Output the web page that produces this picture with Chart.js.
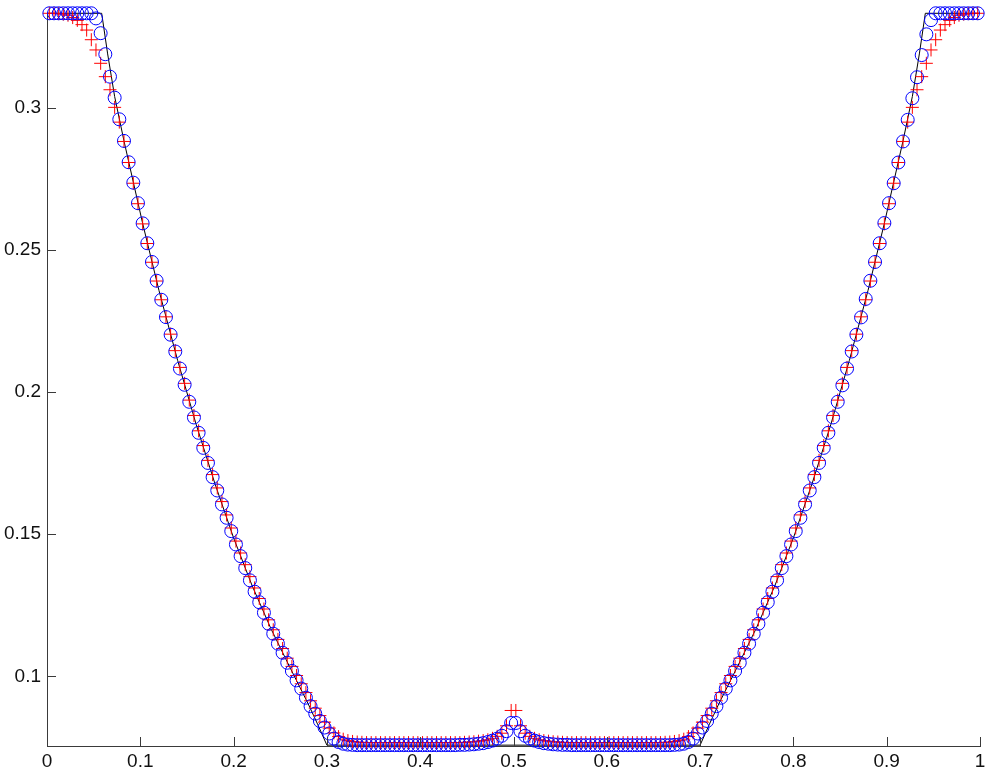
<!DOCTYPE html>
<html>
<head>
<meta charset="utf-8">
<script src="https://cdn.jsdelivr.net/npm/chart.js@4/dist/chart.umd.min.js"></script>
<style>
html, body { margin: 0; padding: 0; background: #fff; }
#wrap { width: 996px; height: 773px; }
</style>
</head>
<body>
<div id="wrap"><canvas id="grafica" width="996" height="773"></canvas></div>
<script>
// Densidad en 200 celdas: esquema azul (o), esquema rojo (+), solución exacta (línea negra)
const rhoAzul = [
  0.3333, 0.3333, 0.3333, 0.3333, 0.3333, 0.3333, 0.3333, 0.3333, 0.3333, 0.3333,
  0.3315, 0.3263, 0.3189, 0.3110, 0.3036, 0.2960, 0.2884, 0.2809, 0.2737, 0.2665,
  0.2594, 0.2524, 0.2458, 0.2392, 0.2325, 0.2264, 0.2202, 0.2143, 0.2083, 0.2026,
  0.1966, 0.1911, 0.1857, 0.1804, 0.1751, 0.1701, 0.1654, 0.1605, 0.1558, 0.1511,
  0.1464, 0.1423, 0.1381, 0.1338, 0.1298, 0.1261, 0.1224, 0.1185, 0.1150, 0.1115,
  0.1083, 0.1048, 0.1019, 0.0986, 0.0957, 0.0925, 0.0895, 0.0869, 0.0843, 0.0820,
  0.0799, 0.0781, 0.0769, 0.0763, 0.0760, 0.0759, 0.0758, 0.0758, 0.0758, 0.0758,
  0.0758, 0.0758, 0.0758, 0.0758, 0.0758, 0.0758, 0.0758, 0.0758, 0.0758, 0.0758,
  0.0758, 0.0758, 0.0758, 0.0758, 0.0758, 0.0758, 0.0758, 0.0758, 0.0759, 0.0759,
  0.0760, 0.0761, 0.0763, 0.0765, 0.0769, 0.0774, 0.0781, 0.0791, 0.0807, 0.0836,
  0.0836, 0.0807, 0.0791, 0.0781, 0.0774, 0.0769, 0.0765, 0.0763, 0.0761, 0.0760,
  0.0759, 0.0759, 0.0758, 0.0758, 0.0758, 0.0758, 0.0758, 0.0758, 0.0758, 0.0758,
  0.0758, 0.0758, 0.0758, 0.0758, 0.0758, 0.0758, 0.0758, 0.0758, 0.0758, 0.0758,
  0.0758, 0.0758, 0.0758, 0.0758, 0.0759, 0.0760, 0.0763, 0.0769, 0.0781, 0.0799,
  0.0820, 0.0843, 0.0869, 0.0895, 0.0925, 0.0957, 0.0986, 0.1019, 0.1048, 0.1083,
  0.1115, 0.1150, 0.1185, 0.1224, 0.1261, 0.1298, 0.1338, 0.1381, 0.1423, 0.1464,
  0.1511, 0.1558, 0.1605, 0.1654, 0.1701, 0.1751, 0.1804, 0.1857, 0.1911, 0.1966,
  0.2024, 0.2083, 0.2143, 0.2202, 0.2263, 0.2328, 0.2392, 0.2458, 0.2524, 0.2595,
  0.2665, 0.2735, 0.2808, 0.2882, 0.2958, 0.3034, 0.3108, 0.3186, 0.3259, 0.3309,
  0.3333, 0.3333, 0.3333, 0.3333, 0.3333, 0.3333, 0.3333, 0.3333, 0.3333, 0.3333
];

const rhoRojo = [
  0.3333, 0.3333, 0.3332, 0.3330, 0.3326, 0.3318, 0.3308, 0.3293, 0.3274, 0.3240,
  0.3204, 0.3157, 0.3110, 0.3064, 0.3002, 0.2950, 0.2882, 0.2808, 0.2735, 0.2663,
  0.2592, 0.2523, 0.2457, 0.2391, 0.2325, 0.2265, 0.2204, 0.2146, 0.2087, 0.2031,
  0.1972, 0.1918, 0.1864, 0.1812, 0.1760, 0.1710, 0.1663, 0.1615, 0.1568, 0.1522,
  0.1476, 0.1434, 0.1393, 0.1351, 0.1311, 0.1274, 0.1237, 0.1199, 0.1164, 0.1130,
  0.1098, 0.1064, 0.1035, 0.1003, 0.0974, 0.0943, 0.0914, 0.0888, 0.0862, 0.0839,
  0.0818, 0.0801, 0.0788, 0.0779, 0.0774, 0.0771, 0.0769, 0.0768, 0.0767, 0.0767,
  0.0767, 0.0767, 0.0767, 0.0767, 0.0767, 0.0767, 0.0767, 0.0767, 0.0767, 0.0767,
  0.0767, 0.0767, 0.0767, 0.0767, 0.0767, 0.0767, 0.0767, 0.0767, 0.0767, 0.0768,
  0.0769, 0.0770, 0.0772, 0.0774, 0.0777, 0.0782, 0.0789, 0.0800, 0.0826, 0.0880,
  0.0880, 0.0826, 0.0800, 0.0789, 0.0782, 0.0777, 0.0774, 0.0772, 0.0770, 0.0769,
  0.0768, 0.0767, 0.0767, 0.0767, 0.0767, 0.0767, 0.0767, 0.0767, 0.0767, 0.0767,
  0.0767, 0.0767, 0.0767, 0.0767, 0.0767, 0.0767, 0.0767, 0.0767, 0.0767, 0.0767,
  0.0767, 0.0767, 0.0768, 0.0769, 0.0771, 0.0774, 0.0779, 0.0788, 0.0801, 0.0818,
  0.0839, 0.0862, 0.0888, 0.0914, 0.0943, 0.0974, 0.1003, 0.1035, 0.1064, 0.1098,
  0.1130, 0.1164, 0.1199, 0.1237, 0.1274, 0.1311, 0.1351, 0.1393, 0.1434, 0.1476,
  0.1522, 0.1568, 0.1615, 0.1663, 0.1710, 0.1760, 0.1812, 0.1864, 0.1918, 0.1972,
  0.2031, 0.2087, 0.2146, 0.2204, 0.2265, 0.2325, 0.2391, 0.2457, 0.2523, 0.2592,
  0.2663, 0.2735, 0.2808, 0.2882, 0.2950, 0.3002, 0.3064, 0.3110, 0.3157, 0.3204,
  0.3240, 0.3274, 0.3293, 0.3308, 0.3318, 0.3326, 0.3330, 0.3332, 0.3333, 0.3333
];

const exactaX = [0, 0.0586, 0.065, 0.0725, 0.0825, 0.1025, 0.12, 0.14, 0.16, 0.18, 0.20, 0.22, 0.24, 0.26, 0.28, 0.29, 0.30,
                 0.70, 0.71, 0.72, 0.74, 0.76, 0.78, 0.80, 0.82, 0.84, 0.86, 0.88, 0.8975, 0.9175, 0.9275, 0.935, 0.9414, 1];
const exactaRho = [0.3333, 0.3333, 0.3190, 0.3040, 0.2884, 0.2594, 0.2358, 0.2112, 0.1885, 0.1678, 0.1487, 0.1318, 0.1168, 0.1034, 0.0903, 0.0832, 0.0758,
                   0.0758, 0.0832, 0.0903, 0.1034, 0.1168, 0.1318, 0.1487, 0.1678, 0.1885, 0.2112, 0.2358, 0.2594, 0.2884, 0.3040, 0.3190, 0.3333, 0.3333];

const xTicks = [0, 0.1, 0.2, 0.3, 0.4, 0.5, 0.6, 0.7, 0.8, 0.9, 1];
const xTickLabels = ['0', '0.1', '0.2', '0.3', '0.4', '0.5', '0.6', '0.7', '0.8', '0.9', '1'];
const yTicks = [0.1, 0.15, 0.2, 0.25, 0.3];
const yTickLabels = ['0.1', '0.15', '0.2', '0.25', '0.3'];

const colorEje = '#3a3a3a';
const fuente = { family: '"Liberation Sans", Arial, sans-serif', size: 19 };

// centros de celda de la malla uniforme
const nCeldas = rhoAzul.length;
const centroX = i => (i + 0.5) / nCeldas;

/** Marcas de los ejes hacia adentro (estilo MATLAB) */
const ticksAdentro = {
    id: 'ticksAdentro',
    afterDraw(chart) {
        const { ctx, chartArea, scales } = chart;
        ctx.save();
        ctx.strokeStyle = colorEje; ctx.lineWidth = 1;
        ctx.beginPath();
        scales.x.ticks.forEach(t => {
            const px = Math.round(scales.x.getPixelForValue(t.value)) + 0.5;
            ctx.moveTo(px, chartArea.bottom); ctx.lineTo(px, chartArea.bottom - 9);
        });
        scales.y.ticks.forEach(t => {
            const py = Math.round(scales.y.getPixelForValue(t.value)) + 0.5;
            ctx.moveTo(chartArea.left, py); ctx.lineTo(chartArea.left + 9, py);
        });
        ctx.stroke();
        ctx.restore();
    }
};

new Chart(document.getElementById('grafica'), {
    type: 'scatter',
    data: {
        datasets: [
            { label: 'esquema o', data: rhoAzul.map((v, i) => ({ x: centroX(i), y: v })), pointStyle: 'circle', pointRadius: 6.5,
              borderColor: '#0000ff', backgroundColor: 'rgba(0,0,0,0)', borderWidth: 1, clip: false },
            { label: 'esquema +', data: rhoRojo.map((v, i) => ({ x: centroX(i), y: v })), pointStyle: 'cross', pointRadius: 6.5,
              borderColor: '#ff0000', backgroundColor: '#ff0000', borderWidth: 1, clip: false },
            { label: 'exacta', data: exactaX.map((x, i) => ({ x, y: exactaRho[i] })), showLine: true, pointRadius: 0,
              borderColor: '#000000', borderWidth: 1, clip: false }
        ]
    },
    options: {
        responsive: false, animation: false, devicePixelRatio: 1,
        layout: { padding: { top: 13, right: 16, left: 0, bottom: 0 } },
        plugins: { legend: { display: false }, tooltip: { enabled: false } },
        scales: {
            x: {
                type: 'linear', min: 0, max: 1,
                afterBuildTicks: s => { s.ticks = xTicks.map(v => ({ value: v })); },
                afterFit: s => { s.height = 27; s.paddingLeft = 0; s.paddingRight = 0; },
                ticks: { color: '#111', font: fuente, padding: 4, maxRotation: 0, autoSkip: false,
                         callback: (v) => xTickLabels[xTicks.findIndex(t => Math.abs(t - v) < 1e-9)] },
                grid: { display: true, drawOnChartArea: false, drawTicks: false },
                border: { display: true, color: colorEje, width: 1 }
            },
            y: {
                type: 'linear', min: 0.0755, max: 0.3334,
                afterBuildTicks: s => { s.ticks = yTicks.map(v => ({ value: v })); },
                afterFit: s => { s.width = 47; s.paddingTop = 0; s.paddingBottom = 0; },
                ticks: { color: '#111', font: fuente, padding: 6, autoSkip: false,
                         callback: (v) => yTickLabels[yTicks.findIndex(t => Math.abs(t - v) < 1e-9)] },
                grid: { display: true, drawOnChartArea: false, drawTicks: false },
                border: { display: true, color: colorEje, width: 1 }
            }
        }
    },
    plugins: [ticksAdentro]
});
</script>
</body>
</html>
